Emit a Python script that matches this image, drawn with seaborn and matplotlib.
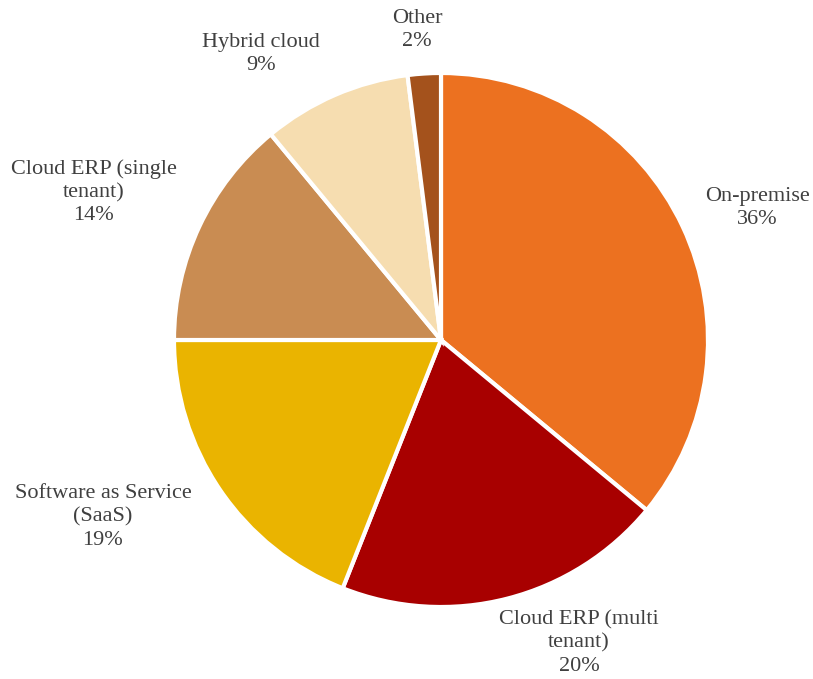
import matplotlib
matplotlib.use("Agg")
import matplotlib.pyplot as plt
import seaborn as sns

categories = ["On-premise", "Cloud ERP (multi\ntenant)", "Software as Service\n(SaaS)",
              "Cloud ERP (single\ntenant)", "Hybrid cloud", "Other"]
values = [36, 20, 19, 14, 9, 2]
colors = ["#EC7120", "#A80000", "#EAB400", "#C98C52", "#F6DDB0", "#A4521C"]

sns.set_theme(style="white")
plt.rcParams['font.family'] = ['Liberation Serif', 'DejaVu Serif']

W, H = 813, 679
fig = plt.figure(figsize=(W / 100, H / 100), dpi=100)
ax = fig.add_axes([0, 0, 1, 1])

wedges, _ = ax.pie(values, colors=colors, startangle=90, counterclock=False,
                   radius=1.0, wedgeprops=dict(edgecolor="white", linewidth=3))

cx, cy, R = 441, 340, 267
ax.set_xlim(-cx / R, (W - cx) / R)
ax.set_ylim(-(H - cy) / R, cy / R)
ax.set_aspect('equal', adjustable='box')
ax.axis('off')

# label layout (text centres, in pie-radius units)
label_pos = [(1.184, 0.494), (0.517, -1.135), (-1.266, -0.663),
             (-1.300, 0.554), (-0.674, 1.071), (-0.090, 1.161)]
for cat, v, (x, y) in zip(categories, values, label_pos):
    ax.text(x, y, f"{cat}\n{v}%", ha="center", va="center", fontsize=16,
            color="#404040", linespacing=1.3)

fig.savefig("out.png", dpi=100, facecolor="white")
